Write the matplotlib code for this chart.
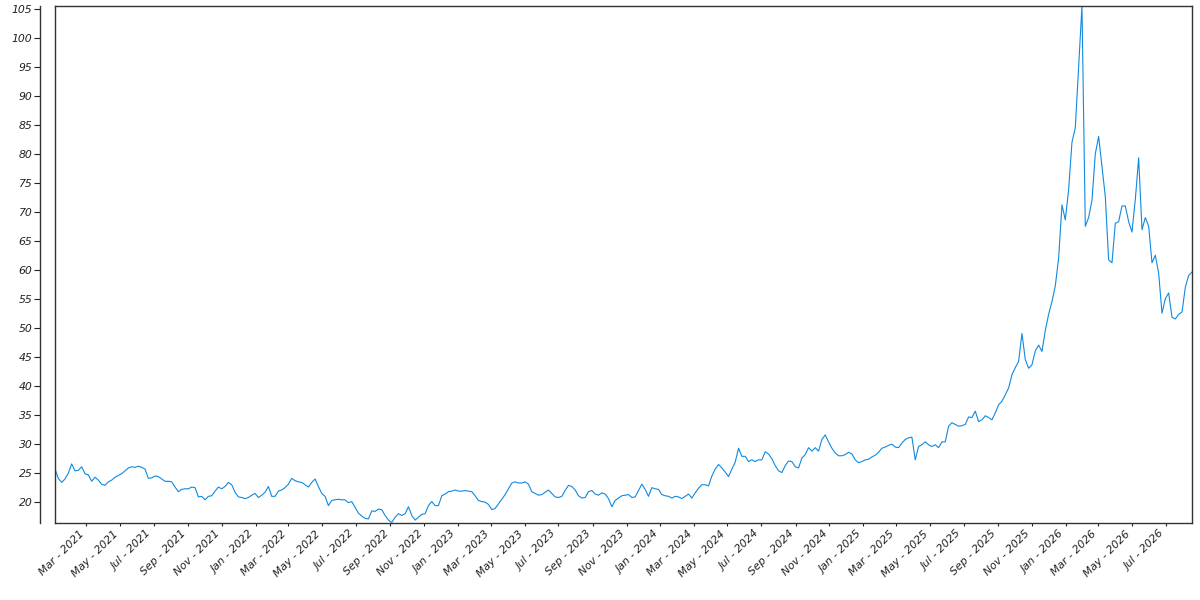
import matplotlib
matplotlib.use("Agg")
import matplotlib.pyplot as plt
import matplotlib.dates as mdates
import numpy as np
import pandas as pd

start_date = "2021-01-04"
end_date = "2026-08-17"

values_2021_2022 = [
    25.6, 24.0, 23.3, 23.9, 24.9, 26.5, 25.3, 25.4, 26.0, 24.8,
    24.6, 23.5, 24.2, 23.7, 23.0, 22.8, 23.4, 23.7, 24.2, 24.5,
    24.8, 25.3, 25.8, 26.0, 25.9, 26.1, 25.9, 25.6, 24.0, 24.1,
    24.4, 24.3, 23.9, 23.5, 23.5, 23.4, 22.5, 21.7, 22.1, 22.2,
    22.2, 22.5, 22.4, 20.8, 20.9, 20.3, 20.9, 21.0, 21.8, 22.5,
    22.2, 22.6, 23.3, 22.9, 21.6, 20.8, 20.7, 20.5, 20.7, 21.1,
    21.4, 20.7, 21.1, 21.6, 22.6, 20.9, 20.9, 21.8, 22.0, 22.4,
    23.0, 24.0, 23.6, 23.4, 23.3, 22.9, 22.5, 23.3, 23.9, 22.6,
    21.4, 20.9, 19.3, 20.2, 20.3, 20.4, 20.3, 20.3, 19.8,
]
values_2022_2023 = [
    20.0, 19.0, 18.0, 17.5, 17.1, 17.0, 18.4, 18.3, 18.7, 18.6,
    17.6, 16.8, 16.4, 17.3, 17.9, 17.6, 17.9, 19.1, 17.6, 16.8,
    17.3, 17.8, 17.9, 19.3, 20.0, 19.3, 19.3, 21.0, 21.3, 21.7,
    21.8, 22.0, 21.8, 21.8, 21.9, 21.8, 21.7, 21.0, 20.2, 20.0,
    19.9, 19.5, 18.6, 18.8, 19.6, 20.4, 21.2, 22.2, 23.2, 23.4,
    23.2, 23.2, 23.4, 23.0, 21.7, 21.4, 21.1, 21.2, 21.6, 22.0,
    21.4, 20.8, 20.7, 20.9, 21.9, 22.8, 22.6, 22.0, 21.0, 20.6,
    20.7, 21.7, 21.9, 21.3, 21.1, 21.5, 21.3, 20.5, 19.1, 20.2,
    20.6, 21.0, 21.1, 21.2, 20.7, 20.8, 21.9,
]
values_2024_2025 = [
    23.0, 22.1, 20.9, 22.4, 22.2, 22.1, 21.2, 21.0, 20.9, 20.6,
    20.9, 20.8, 20.5, 20.9, 21.3, 20.6, 21.5, 22.3, 22.9, 22.9,
    22.7, 24.4, 25.6, 26.4, 25.8, 25.1, 24.3, 25.6, 26.8, 29.2,
    27.8, 27.8, 26.9, 27.2, 26.9, 27.2, 27.2, 28.6, 28.2, 27.4,
    26.2, 25.3, 25.0, 26.2, 27.0, 26.9, 26.0, 25.8, 27.5, 28.1,
    29.3, 28.7, 29.3, 28.7, 30.7, 31.5, 30.3, 29.2, 28.4, 27.9,
    27.9, 28.1, 28.5, 28.2, 27.2, 26.7, 26.9, 27.2, 27.3, 27.7,
    28.0, 28.5, 29.2, 29.4, 29.7, 29.9, 29.4, 29.3, 30.1, 30.7,
    31.0, 31.1, 27.2, 29.5, 29.8, 30.3, 29.8, 29.5, 29.8, 29.3,
    30.3, 30.3, 33.0, 33.6, 33.3, 33.0,
]
values_2025_2026 = [
    33.1, 33.3, 34.6, 34.5, 35.6, 33.8, 34.1, 34.8, 34.5, 34.1,
    35.3, 36.7, 37.3, 38.4, 39.6, 41.9, 43.1, 44.2, 49.0, 44.5,
    43.0, 43.6, 46.0, 47.0, 45.9, 49.5, 52.3, 54.5, 57.2, 62.0,
    71.2, 68.6, 73.8, 82.0, 84.5, 95.0, 105.5, 67.5, 69.0, 72.0,
    80.0, 83.0, 77.8, 72.6, 61.7, 61.2, 68.0, 68.3, 71.0, 71.0,
    68.3, 66.5, 72.1, 79.3, 66.9, 69.0, 67.5, 61.2, 62.5, 59.4,
    52.5, 55.0, 56.0, 51.8, 51.5, 52.3, 52.7, 57.0, 59.0, 59.6,
]

values = values_2021_2022 + values_2022_2023 + values_2024_2025 + values_2025_2026
dates = pd.date_range(start_date, end_date, periods=len(values))

y_ticks = list(range(20, 106, 5))

line_color = "#0f8ae0"
spine_color = "#333333"

fig = plt.figure(figsize=(12, 6), dpi=100)
ax = fig.add_axes([55 / 1200, 1 - 523 / 600, (1192 - 55) / 1200, (523 - 6) / 600])
ax.plot(dates, values, color=line_color, lw=0.8)

ax.set_xlim(dates[0], dates[-1])
ax.set_ylim(16.3, 105.5)
ax.set_yticks(y_ticks)

ax.xaxis.set_major_locator(mdates.MonthLocator(bymonth=[1, 3, 5, 7, 9, 11]))
ax.xaxis.set_major_formatter(mdates.DateFormatter("%b - %Y"))

for s in ax.spines.values():
    s.set_color(spine_color)
    s.set_linewidth(1.0)
ax.spines["left"].set_position(("outward", 10.8))
ax.plot([0, 0], [0, 1], transform=ax.transAxes, color=spine_color, lw=1.0,
        clip_on=False)

ax.tick_params(axis="y", length=4, width=0.8, pad=1.5, colors="#222222",
               labelsize=7.8)
ax.tick_params(axis="x", length=2.5, width=0.8, pad=1.5, colors="#222222",
               labelsize=7.8)
for lab in ax.get_yticklabels():
    lab.set_fontstyle("italic")
for lab in ax.get_xticklabels():
    lab.set_fontstyle("italic")
    lab.set_rotation(45)
    lab.set_ha("right")

fig.savefig("out.png", dpi=100)
